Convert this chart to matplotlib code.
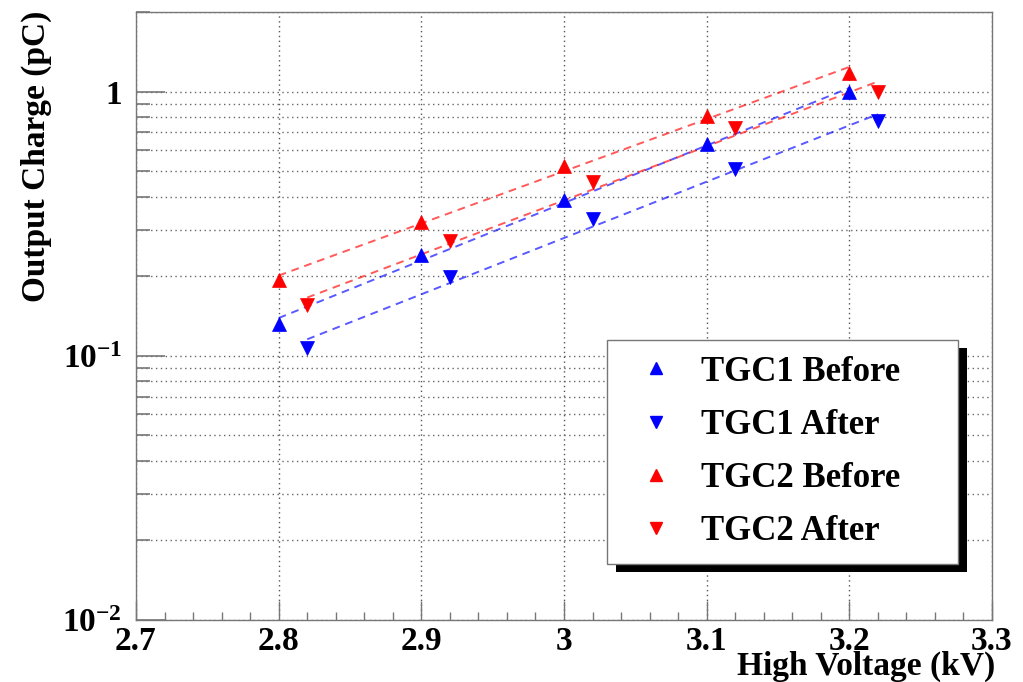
import numpy as np
import matplotlib
matplotlib.use("Agg")
import matplotlib.pyplot as plt
from matplotlib.ticker import FixedLocator, FixedFormatter, MultipleLocator, NullFormatter
from matplotlib.lines import Line2D
from matplotlib.patches import Rectangle

# ---------------- data ----------------
hv_before = [2.80, 2.90, 3.00, 3.10, 3.20]
hv_after = [2.82, 2.92, 3.02, 3.12, 3.22]
tgc1_before = [0.132, 0.241, 0.388, 0.631, 1.00]
tgc1_after = [0.107, 0.198, 0.330, 0.511, 0.774]
tgc2_before = [0.193, 0.322, 0.522, 0.811, 1.18]
tgc2_after = [0.155, 0.273, 0.455, 0.726, 1.00]
series_labels = ["TGC1 Before", "TGC1 After", "TGC2 Before", "TGC2 After"]
x_ticks = [2.7, 2.8, 2.9, 3.0, 3.1, 3.2, 3.3]
x_tick_labels = ["2.7", "2.8", "2.9", "3", "3.1", "3.2", "3.3"]
y_ticks = [0.01, 0.1, 1]
y_tick_labels = [r"$10^{-2}$", r"$10^{-1}$", "1"]
x_title = "High Voltage (kV)"
y_title = "Output Charge (pC)"

plt.rcParams["font.family"] = ["Liberation Serif", "DejaVu Serif"]
plt.rcParams["font.weight"] = "bold"
plt.rcParams["mathtext.fontset"] = "custom"
plt.rcParams["mathtext.rm"] = "Liberation Serif:bold"
plt.rcParams["mathtext.bf"] = "Liberation Serif:bold"
plt.rcParams["mathtext.it"] = "Liberation Serif:bold"

W, H = 1023, 682
fig = plt.figure(figsize=(W / 100, H / 100), dpi=100)
L, R, T, B = 136, 992, 12, 620
ax = fig.add_axes([L / W, 1 - B / H, (R - L) / W, (B - T) / H])

ax.set_xlim(2.7, 3.3)
ax.set_yscale("log")
ax.set_ylim(0.01, 2.0)

BLUE = (0, 0, 1)
RED = (1, 0, 0)
series = [
    (hv_before, tgc1_before, BLUE, "^"),
    (hv_after, tgc1_after, BLUE, "v"),
    (hv_before, tgc2_before, RED, "^"),
    (hv_after, tgc2_after, RED, "v"),
]
for xs, ys, c, m in series:
    xs = np.asarray(xs)
    ys = np.asarray(ys)
    coef = np.polyfit(xs, np.log10(ys), 1)
    xf = np.linspace(xs[0], xs[-1], 50)
    ax.plot(xf, 10 ** np.polyval(coef, xf), ls=(0, (4, 3)), lw=1.4, color=c,
            alpha=0.65, zorder=3)
    ax.plot(xs, ys, ls="none", marker=m, ms=10, color=c, mec=c, mew=0.5, zorder=4)

# ticks
ax.xaxis.set_major_locator(FixedLocator(x_ticks))
ax.xaxis.set_major_formatter(FixedFormatter(x_tick_labels))
ax.xaxis.set_minor_locator(MultipleLocator(0.02))
ax.yaxis.set_major_locator(FixedLocator(y_ticks))
ax.yaxis.set_major_formatter(FixedFormatter(y_tick_labels))
minor_y = [m * 10.0 ** e for e in (-2, -1, 0) for m in range(2, 10) if m * 10.0 ** e <= 2.0]
ax.yaxis.set_minor_locator(FixedLocator(minor_y))
ax.yaxis.set_minor_formatter(NullFormatter())

ax.tick_params(axis="both", which="both", direction="in", colors="#777777",
               labelcolor="black", labelsize=24)
ax.tick_params(axis="x", which="major", length=14, width=1, pad=4, top=False)
ax.tick_params(axis="x", which="minor", length=6, width=1, top=False)
ax.tick_params(axis="y", which="major", length=21, width=1.2, pad=10, right=False)
ax.tick_params(axis="y", which="minor", length=10, width=1.2, right=False)

ax.grid(True, which="major", axis="x", ls=(0, (1, 2.5)), color="#555555", lw=1)
ax.grid(True, which="both", axis="y", ls=(0, (1, 2.5)), color="#666666", lw=1)
ax.set_axisbelow(True)
for s in ax.spines.values():
    s.set_color("#777777")
    s.set_linewidth(1)

# axis titles (ROOT-style, right/top aligned)
fig.text(995 / W, 1 - 675 / H, x_title, ha="right", va="baseline", fontsize=24,
         fontweight="bold")
fig.text(36 / W, 1 - 11 / H, y_title, ha="center", va="top", rotation=90,
         fontsize=24, fontweight="bold")

# legend
handles = [Line2D([], [], ls="none", marker=m, ms=8, color=c, mec=c)
           for (_, _, c, m) in series]
lx0, lx1, ly0, ly1 = 607, 958, 340, 562
ax_w, ax_h = R - L, B - T
leg = ax.legend(handles, series_labels, loc="upper left", mode="expand",
                bbox_to_anchor=((lx0 - L) / ax_w, (B - ly1) / ax_h,
                                (lx1 - lx0) / ax_w, (ly1 - ly0) / ax_h),
                frameon=True, fancybox=False, framealpha=1, borderpad=0.45,
                handlelength=1.9, handletextpad=0.35, labelspacing=0.58,
                borderaxespad=0, prop={"weight": "bold", "size": 25})
leg.get_frame().set_edgecolor("#777777")
leg.get_frame().set_facecolor("white")
leg.get_frame().set_linewidth(1)
leg.set_zorder(10)

fig.canvas.draw()
bb = leg.get_window_extent()
shadow = Rectangle((bb.x0 + 9, bb.y0 - 8), bb.width, bb.height, transform=None,
                   facecolor="black", edgecolor="none", zorder=9, clip_on=False)
ax.add_artist(shadow)

fig.savefig("out.png", dpi=100)
